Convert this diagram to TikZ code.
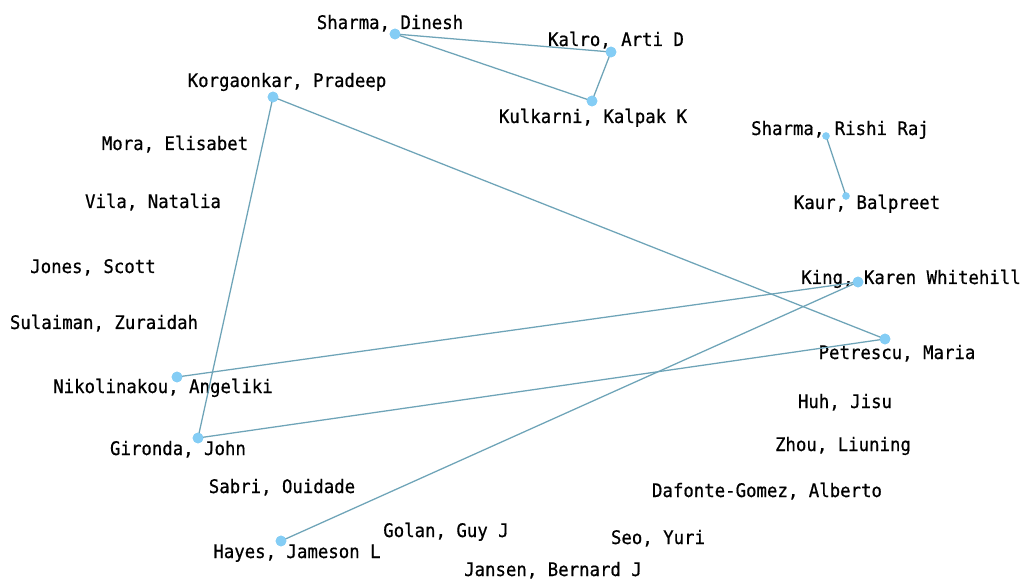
\documentclass[tikz,border=0pt]{standalone}
\usepackage{fontspec}
\newfontfamily\monofnt[FakeStretch=0.93,FakeBold=0.6]{DejaVu Sans Mono}
\definecolor{edgec}{RGB}{110,164,184}
\definecolor{dotc}{RGB}{132,205,245}
\begin{document}
\begin{tikzpicture}[x=0.75pt,y=-0.75pt,
  lbl/.style={font=\monofnt\fontsize{14pt}{16pt}\selectfont, inner sep=0pt, anchor=base, text=black},
  bigdot/.style={circle, fill=dotc, inner sep=0pt, minimum size=8pt},
  smalldot/.style={circle, fill=dotc, inner sep=0pt, minimum size=5.5pt},
  edge/.style={draw=edgec, line width=0.95pt}]
\useasboundingbox[fill=white] (0,0) rectangle (1022,581);
% dots
\node[bigdot] (sd) at (395,34) {};
\node[bigdot] (ka) at (611,52) {};
\node[bigdot] (ku) at (592,101) {};
\node[bigdot] (ko) at (273,97) {};
\node[smalldot] (sr) at (826,136) {};
\node[smalldot] (kb) at (846,196) {};
\node[bigdot] (ki) at (858,282) {};
\node[bigdot] (pe) at (885,339) {};
\node[bigdot] (ni) at (177,377) {};
\node[bigdot] (gi) at (198,438) {};
\node[bigdot] (ha) at (281,541) {};
% labels
\node[lbl] (lsd) at (390,29) {Sharma, Dinesh};
\node[lbl] (lka) at (616,46) {Kalro, Arti D};
\node[lbl] (lku) at (593,123) {Kulkarni, Kalpak K};
\node[lbl] (lko) at (287,87) {Korgaonkar, Pradeep};
\node[lbl] (lsr) at (840,135) {Sharma, Rishi Raj};
\node[lbl] (lkb) at (867,209) {Kaur, Balpreet};
\node[lbl] (lki) at (911,284) {King, Karen Whitehill};
\node[lbl] (lpe) at (897,359) {Petrescu, Maria};
\node[lbl] (lni) at (163,393) {Nikolinakou, Angeliki};
\node[lbl] (lgi) at (178,455) {Gironda, John};
\node[lbl] (lha) at (297,558) {Hayes, Jameson L};
\node[lbl] (lmo) at (175,150) {Mora, Elisabet};
\node[lbl] (lvi) at (153,208) {Vila, Natalia};
\node[lbl] (ljo) at (93,273) {Jones, Scott};
\node[lbl] (lsu) at (104,329) {Sulaiman, Zuraidah};
\node[lbl] (lsa) at (282,493) {Sabri, Ouidade};
\node[lbl] (lgo) at (446,537) {Golan, Guy J};
\node[lbl] (lja) at (553,576) {Jansen, Bernard J};
\node[lbl] (lse) at (658,544) {Seo, Yuri};
\node[lbl] (lda) at (767,497) {Dafonte-Gomez, Alberto};
\node[lbl] (lzh) at (843,451) {Zhou, Liuning};
\node[lbl] (lhu) at (845,408) {Huh, Jisu};
% connectors
\draw[edge] (sd.center) -- (ka.center);
\draw[edge] (sd.center) -- (ku.center);
\draw[edge] (ka.center) -- (ku.center);
\draw[edge] (ko.center) -- (pe.center);
\draw[edge] (ko.center) -- (gi.center);
\draw[edge] (sr.center) -- (kb.center);
\draw[edge] (ki.center) -- (ni.center);
\draw[edge] (ki.center) -- (ha.center);
\draw[edge] (pe.center) -- (gi.center);
% dots on top of connectors
\foreach \n in {sd,ka,ku,ko,ki,pe,ni,gi,ha}{\fill[dotc] (\n.center) circle (4pt);}
\foreach \n in {sr,kb}{\fill[dotc] (\n.center) circle (2.75pt);}
\end{tikzpicture}
\end{document}
